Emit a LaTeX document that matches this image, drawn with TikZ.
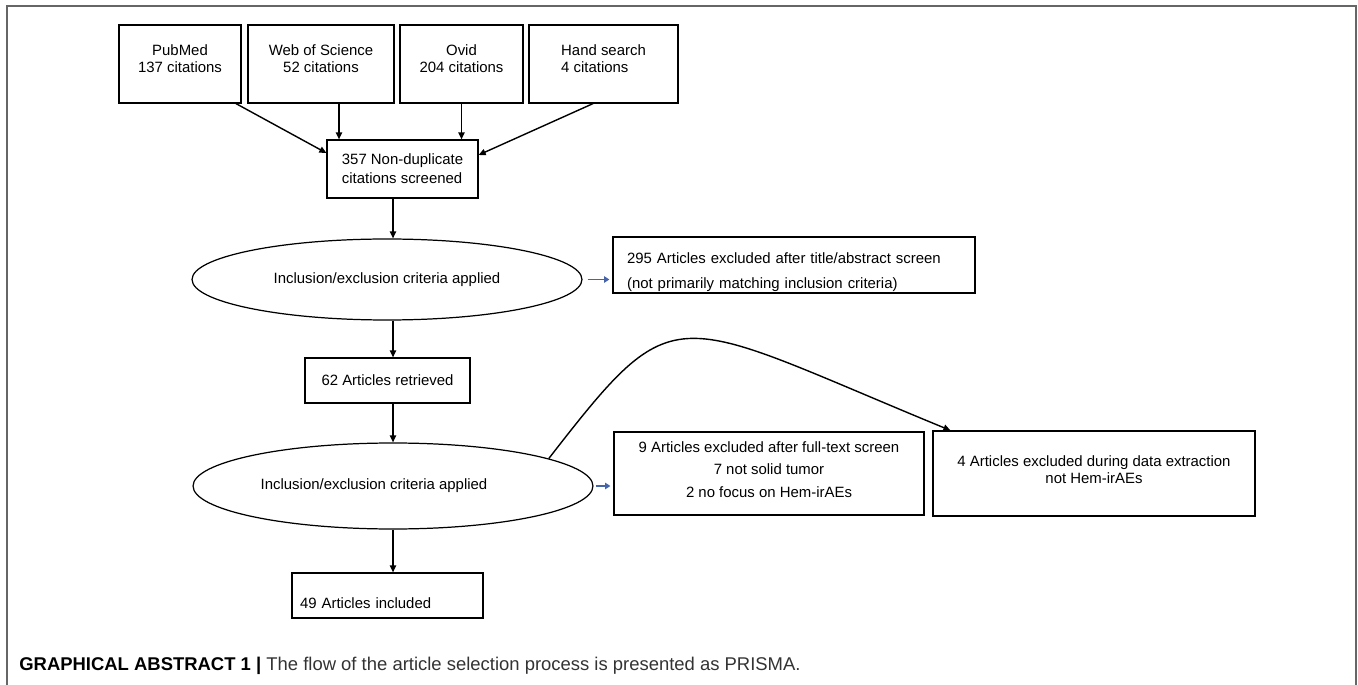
\documentclass[tikz,border=0pt]{standalone}
\usepackage{fontspec}
\setmainfont{Liberation Sans}
\usetikzlibrary{positioning,arrows.meta,shapes.geometric}
\definecolor{arrowblue}{RGB}{70,100,170}

\begin{document}
\begin{tikzpicture}[x=0.02cm, y=-0.02cm,
  every node/.style={font=\fontsize{8.5}{9.6}\selectfont, inner sep=2pt},
  box/.style={draw, rectangle, line width=0.7pt},
  ell/.style={draw, ellipse, line width=0.7pt, inner sep=0pt},
  arr/.style={line width=0.8pt, -{Triangle[length=4pt,width=3.6pt]}},
  bluearr/.style={line width=1.1pt, arrowblue, -{Triangle[length=3pt,width=3.6pt]}}]
\useasboundingbox (0,0) rectangle (1358,685);
% open frame round the figure
\draw[black!60, line width=1.1pt] (7,685) |- (1356,6) -- (1356,685);

% sources
\node[box, minimum width=2.44cm, minimum height=1.56cm, align=center] (pubmed) at (180,64) {PubMed\\137 citations\\[-3.4pt]\mbox{}};
\node[box, minimum width=2.92cm, minimum height=1.56cm, align=center] (wos) at (321,64) {Web of Science\\52 citations\\[-3.4pt]\mbox{}};
\node[box, minimum width=2.46cm, minimum height=1.56cm, align=center] (ovid) at (461.5,64) {Ovid\\204 citations\\[-3.4pt]\mbox{}};
\node[box, minimum width=2.98cm, minimum height=1.56cm, align=left] (hand) at (603.5,64) {Hand search\\4 citations\\[-3.4pt]\mbox{}};

% screening steps
\node[box, minimum width=3.02cm, minimum height=1.16cm, align=left] (screened) at (402.5,169) {357 Non-duplicate\\[1.2pt]citations screened};
\node[ell, minimum width=7.8cm, minimum height=1.62cm] (ell1) at (387,279.5) {Inclusion/exclusion criteria applied};
\node[box, minimum width=7.24cm, minimum height=1.12cm, inner xsep=0.28cm, inner ysep=0pt, text width=6.68cm, align=left] (excl1) at (794,265) {\mbox{}\\[4.6pt]295 Articles excluded after title/abstract screen\\[5.1pt](not primarily matching inclusion criteria)};
\node[box, minimum width=3.3cm, minimum height=0.9cm] (retr) at (387.5,380.5) {62 Articles retrieved};
\node[ell, minimum width=8cm, minimum height=1.72cm] (ell2) at (393,486) {Inclusion/exclusion criteria applied\hspace*{0.76cm}};
\node[box, minimum width=6.2cm, minimum height=1.66cm, align=center] (excl2) at (769,473.5) {9 Articles excluded after full-text screen\\[3.4pt]7 not solid tumor\\[3.4pt]2 no focus on Hem-irAEs\\[-5pt]\mbox{}};
\node[box, minimum width=6.44cm, minimum height=1.7cm, align=center] (excl3) at (1094,473.5) {4 Articles excluded during data extraction\\not Hem-irAEs\\[-5.1pt]\mbox{}};
\node[box, minimum width=3.82cm, minimum height=0.9cm, inner xsep=0.16cm, text width=3.5cm, align=left] (incl) at (387.5,595.5) {\raisebox{-4pt}[6.5pt][0pt]{49 Articles included}};
\coordinate (spine) at (393,0);

% connectors
\draw[arr] ([xshift=1.12cm]pubmed.south) -- ([yshift=0.32cm]screened.west);
\draw[arr] ([xshift=0.36cm]wos.south) -- ([xshift=0.36cm]wos.south |- screened.north);
\draw[arr] (ovid.south) -- (ovid.south |- screened.north);
\draw[arr] ([xshift=-0.21cm]hand.south) -- ([yshift=0.28cm]screened.east);
\draw[arr] (spine |- screened.south) -- (spine |- ell1.north);
\draw[arr] (spine |- ell1.south) -- (spine |- retr.north);
\draw[arr] (spine |- retr.south) -- (spine |- ell2.north);
\draw[arr] (spine |- ell2.south) -- (spine |- incl.north);
\draw[bluearr] ([xshift=0.1cm]ell1.east) -- ([xshift=-0.06cm]ell1.east -| excl1.west);
\draw[bluearr] ([xshift=0.04cm]ell2.east) -- ([xshift=-0.06cm]ell2.east -| excl2.west);
\draw[arr] (ell2.10) .. controls +(129,-166) and +(-282,-116) .. ([xshift=0.36cm]excl3.north west);

\node[anchor=base west, inner sep=0pt, font=\fontsize{10.5}{12}\selectfont] (caption) at (19,670) {\textbf{GRAPHICAL ABSTRACT 1 |} {\color{black!80}The flow of the article selection process is presented as PRISMA.}};
\end{tikzpicture}
\end{document}
